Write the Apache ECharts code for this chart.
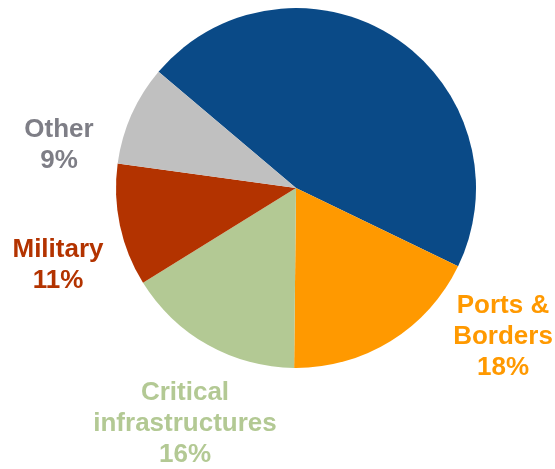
<!DOCTYPE html>
<html>
<head>
<meta charset="utf-8">
<script src="https://cdn.jsdelivr.net/npm/echarts@6/dist/echarts.min.js"></script>
<style>
  html, body { margin: 0; padding: 0; background: #fff; }
  #chart { width: 555px; height: 469px; }
</style>
</head>
<body>
<div id="chart"></div>
<script>
// Market share by segment (percent)
const categories = ['', 'Ports &\nBorders', 'Critical\ninfrastructures', 'Military', 'Other'];
const shares = [46, 18, 16, 11, 9];
const sliceColors = ['#0A4A87', '#FF9900', '#B3C994', '#B33300', '#C0C0C0'];
const labelColors = [null, '#FF9900', '#B3C994', '#B33300', '#7E7E86'];

// Label anchor points (block centres) for each slice
const labelAnchors = [null, [503, 337], [185, 424], [58, 265], [59, 145]];

const chart = echarts.init(document.getElementById('chart'));
chart.setOption({
  animation: false,
  series: [{
    type: 'pie',
    center: [296, 188],
    radius: [0, 180],
    startAngle: 139.8,
    clockwise: true,
    avoidLabelOverlap: false,
    labelLine: { show: false },
    itemStyle: { borderWidth: 0 },
    emphasis: { disabled: true },
    data: categories.map((name, i) => ({
      name: name,
      value: shares[i],
      itemStyle: { color: sliceColors[i] },
      label: {
        show: labelColors[i] !== null,
        color: labelColors[i] || '#000'
      }
    })),
    label: {
      position: 'outside',
      formatter: p => p.name + '\n' + p.value + '%',
      fontFamily: '"Liberation Sans", Arial, sans-serif',
      fontWeight: 'bold',
      fontSize: 26,
      lineHeight: 31,
      align: 'center'
    },
    labelLayout: params => {
      const a = labelAnchors[params.dataIndex];
      if (!a) return {};
      return { x: a[0], y: a[1], align: 'center', verticalAlign: 'middle' };
    }
  }]
});
</script>
</body>
</html>
